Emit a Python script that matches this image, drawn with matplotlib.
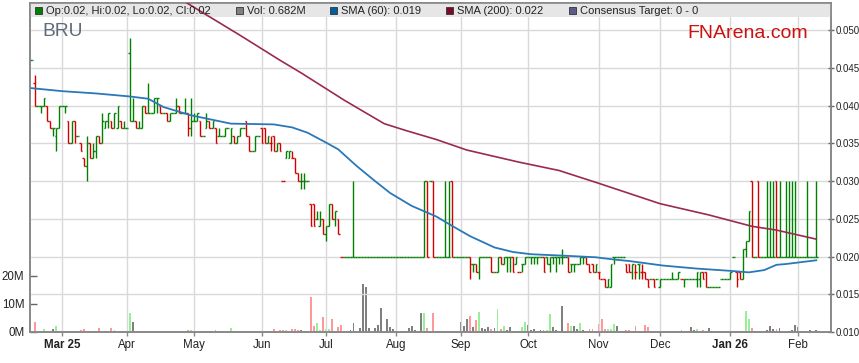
import numpy as np
import pandas as pd
import matplotlib
matplotlib.use('Agg')
import matplotlib.pyplot as plt
from matplotlib.patches import Rectangle

plt.rcParams['font.family'] = ['Liberation Sans', 'DejaVu Sans']

# BRU daily bars, prices in tenths of a cent (0.001), volume in millions
opens = [46, 43, 40, 40, 40, 40, 38, 37, 36, 37,
         40, 40, 38, 35, 38, 36, 35, 33, 32, 35,
         33, 34, 36, 35, 37, 38, 38, 37, 37, 38,
         37, 37, 47, 38, 38, 37, 37, 40, 39, 39,
         39, 41, 40, 39, 39, 38, 39, 39, 40, 39,
         39, 39, 37, 38, 38, 38, 36, 37, 38, 37,
         37, 36, 36, 36, 37, 35, 36, 35, 36, 37,
         38, 36, 34, 34, 36, 37, 37, 35, 35, 36,
         34, 35, 30, 33, 33, 33, 33, 31, 30, 30,
         30, 27, 27, 25, 24, 25, 23, 24, 27, 25,
         25, 20, 20, 20, 20, 20, 20, 20, 20, 20,
         20, 20, 20, 20, 20, 20, 20, 20, 20, 20,
         20, 20, 20, 20, 20, 20, 20, 20, 20, 30,
         30, 30, 20, 20, 20, 20, 20, 30, 20, 20,
         20, 20, 20, 20, 19, 19, 18, 20, 20, 20,
         20, 18, 18, 20, 19, 20, 20, 20, 19, 18,
         19, 19, 20, 20, 20, 20, 20, 20, 20, 19,
         20, 20, 20, 20, 20, 20, 19, 19, 19, 19,
         20, 20, 19, 19, 18, 18, 17, 17, 16, 16,
         20, 20, 20, 20, 19, 19, 18, 18, 19, 18,
         18, 17, 17, 17, 17, 16, 17, 17, 17, 17,
         17, 17, 17, 17, 17, 17, 17, 17, 17, 18,
         18, 16, 16, 16, 16, 17, 17, 17, 17, 20,
         18, 18, 17, 21, 22, 30, 20, 30, 20, 20,
         20, 20, 20, 30, 20, 20, 20, 20, 20, 20,
         20, 20, 20, 20, 20, 20, 20]
highs = [46, 44, 40, 40, 41, 40, 38, 37, 37, 40,
         40, 40, 38, 38, 38, 36, 35, 33, 36, 35,
         35, 36, 36, 39, 38, 39, 38, 39, 40, 38,
         38, 37, 49, 41, 38, 38, 40, 40, 43, 39,
         41, 41, 40, 39, 39, 39, 39, 41, 40, 39,
         41, 39, 41, 39, 39, 38, 36, 39, 38, 38,
         37, 37, 36, 37, 37, 37, 36, 36, 37, 37,
         38, 36, 34, 36, 36, 37, 37, 36, 36, 36,
         35, 35, 30, 34, 34, 34, 33, 31, 31, 31,
         30, 27, 27, 26, 26, 25, 24, 27, 27, 26,
         25, 20, 20, 20, 20, 30, 20, 20, 20, 20,
         20, 20, 20, 20, 20, 20, 20, 20, 20, 20,
         20, 20, 20, 20, 20, 20, 20, 20, 30, 30,
         30, 30, 20, 20, 20, 30, 30, 30, 20, 20,
         20, 20, 20, 20, 19, 19, 20, 20, 20, 20,
         20, 18, 20, 20, 20, 20, 20, 20, 20, 18,
         19, 20, 20, 20, 20, 20, 20, 20, 20, 20,
         20, 20, 20, 21, 20, 20, 19, 19, 19, 20,
         20, 20, 19, 19, 19, 18, 17, 17, 17, 19,
         20, 20, 20, 20, 19, 19, 19, 19, 19, 19,
         18, 17, 17, 17, 17, 17, 17, 17, 17, 18,
         17, 18, 17, 17, 17, 17, 17, 18, 18, 18,
         18, 16, 16, 16, 16, 17, 17, 17, 18, 20,
         18, 18, 21, 22, 26, 30, 20, 30, 20, 20,
         30, 30, 30, 30, 30, 20, 30, 30, 30, 30,
         20, 20, 20, 30, 20, 20, 30]
lows = [46, 40, 40, 39, 40, 38, 37, 36, 34, 37,
        40, 39, 35, 35, 35, 36, 34, 32, 30, 33,
        33, 33, 35, 35, 37, 37, 37, 37, 37, 37,
        37, 37, 38, 38, 37, 37, 37, 39, 39, 39,
        39, 39, 39, 39, 38, 38, 39, 39, 39, 39,
        39, 36, 36, 38, 38, 36, 36, 37, 37, 37,
        35, 36, 36, 36, 37, 35, 35, 35, 36, 37,
        36, 34, 34, 34, 36, 35, 35, 35, 34, 34,
        34, 34, 30, 33, 33, 33, 31, 30, 29, 29,
        30, 24, 24, 25, 24, 23, 22, 24, 25, 24,
        23, 20, 20, 20, 20, 20, 20, 20, 20, 20,
        20, 20, 20, 20, 20, 20, 20, 20, 20, 20,
        20, 20, 20, 20, 20, 20, 20, 20, 20, 20,
        30, 20, 20, 20, 20, 20, 20, 20, 20, 20,
        20, 20, 20, 17, 18, 18, 17, 20, 20, 20,
        18, 18, 18, 19, 19, 18, 18, 18, 19, 18,
        18, 19, 20, 19, 19, 19, 20, 18, 19, 18,
        19, 18, 19, 19, 20, 18, 18, 18, 19, 19,
        19, 19, 18, 18, 18, 17, 17, 16, 16, 16,
        19, 20, 20, 20, 18, 18, 17, 17, 17, 17,
        17, 16, 17, 16, 17, 16, 17, 17, 17, 17,
        17, 17, 17, 16, 17, 17, 17, 16, 16, 17,
        16, 16, 16, 16, 16, 17, 17, 17, 17, 20,
        16, 17, 17, 20, 22, 20, 20, 20, 20, 20,
        20, 20, 20, 20, 20, 20, 20, 20, 20, 20,
        20, 20, 20, 20, 20, 20, 20]
closes = [46, 40, 40, 40, 41, 38, 37, 37, 37, 40,
          40, 40, 35, 38, 36, 36, 34, 32, 35, 33,
          34, 36, 35, 38, 38, 39, 37, 39, 40, 37,
          37, 37, 38, 38, 37, 37, 40, 39, 39, 39,
          41, 41, 39, 39, 38, 39, 39, 40, 39, 39,
          39, 37, 38, 38, 39, 36, 36, 38, 37, 38,
          35, 36, 36, 37, 37, 37, 35, 36, 37, 37,
          36, 34, 34, 36, 36, 35, 35, 36, 35, 34,
          35, 34, 30, 34, 34, 33, 31, 30, 30, 30,
          30, 24, 24, 25, 25, 23, 24, 27, 25, 26,
          23, 20, 20, 20, 20, 20, 20, 20, 20, 20,
          20, 20, 20, 20, 20, 20, 20, 20, 20, 20,
          20, 20, 20, 20, 20, 20, 20, 20, 30, 20,
          30, 20, 20, 20, 20, 20, 20, 20, 20, 20,
          20, 20, 20, 19, 19, 18, 20, 20, 20, 20,
          18, 18, 20, 19, 20, 20, 20, 18, 20, 18,
          19, 20, 20, 20, 20, 20, 20, 18, 19, 20,
          20, 20, 20, 20, 20, 18, 19, 19, 19, 20,
          20, 19, 18, 18, 19, 18, 17, 16, 17, 19,
          20, 20, 20, 20, 18, 18, 19, 18, 19, 18,
          17, 16, 17, 16, 17, 17, 17, 17, 17, 17,
          17, 18, 17, 17, 17, 17, 17, 18, 18, 17,
          16, 16, 16, 16, 16, 17, 17, 17, 18, 20,
          17, 17, 21, 22, 26, 20, 20, 20, 20, 20,
          20, 20, 20, 20, 20, 20, 20, 20, 20, 20,
          20, 20, 20, 20, 20, 20, 20]
volumes = [0.2, 3.4, 0.5, 0.5, 1.1, 0.5, 0.3, 1.2, 2.0, 0.2,
           0.2, 0.3, 0.3, 0.3, 0.2, 0.2, 0.8, 1.2, 0.2, 0.2,
           0.5, 0.5, 1.5, 0.2, 0.2, 0.2, 1.5, 0.6, 0.5, 0.5,
           0.5, 0.2, 6.7, 3.7, 0.4, 0.1, 0.1, 0.4, 0.4, 0.3,
           0.1, 0.1, 0.3, 0.1, 0.1, 0.1, 0.1, 0.1, 0.1, 0.1,
           0.1, 0.8, 0.8, 0.1, 0.1, 0.1, 0.1, 0.4, 0.4, 0.1,
           0.8, 0.1, 0.1, 0.1, 0.4, 1.5, 0.4, 0.4, 0.5, 0.4,
           0.4, 0.4, 0.3, 0.1, 0.1, 0.4, 0.1, 0.4, 0.1, 1.2,
           0.3, 0.6, 0.6, 0.6, 0.4, 0.9, 0.9, 0.6, 0.6, 0.4,
           0.2, 12.4, 2.3, 3.1, 0.8, 5.5, 1.2, 1.2, 4.8, 0.2,
           1.9, 2.6, 0.1, 0.4, 0.8, 3.1, 0.1, 1.5, 17.0, 16.0,
           1.5, 0.1, 1.5, 2.6, 8.7, 0.1, 4.8, 1.9, 1.2, 0.1,
           0.1, 0.1, 0.3, 1.5, 2.3, 0.8, 0.5, 6.7, 6.7, 1.5,
           0.5, 6.8, 0.3, 0.4, 0.4, 0.3, 0.3, 0.3, 0.1, 0.1,
           3.5, 2.3, 4.8, 5.6, 1.7, 4.4, 7.0, 1.3, 1.2, 1.8,
           1.1, 1.4, 8.3, 1.1, 2.3, 0.6, 1.9, 0.2, 0.1, 0.1,
           1.9, 3.5, 2.6, 0.7, 1.2, 0.5, 0.7, 0.7, 0.8, 6.5,
           1.7, 0.7, 0.1, 9.4, 0.5, 3.3, 2.0, 2.3, 1.2, 3.3,
           0.6, 0.1, 1.2, 1.2, 0.1, 3.0, 4.6, 1.2, 1.2, 1.2,
           2.7, 2.0, 0.5, 0.4, 0.8, 0.8, 0.1, 2.3, 0.3, 0.1,
           2.6, 1.9, 0.1, 0.1, 0.1, 0.5, 0.5, 0.5, 0.4, 0.4,
           0.3, 0.1, 0.8, 0.1, 0.1, 1.8, 0.7, 1.2, 0.5, 0.8,
           0.5, 1.4, 0.1, 0.1, 0.3, 0.1, 0.1, 0.3, 0.3, 0.1,
           0.3, 0.3, 0.3, 7.4, 4.8, 1.4, 0.5, 0.2, 0.1, 0.1,
           0.6, 2.3, 1.2, 1.2, 1.4, 0.1, 0.1, 0.3, 0.8, 2.6,
           1.8, 0.3, 0.3, 0.1, 0.7, 0.5, 0.7]

# moving averages (bar index, price in 0.001)
sma60_idx = [0, 10, 21, 32, 38, 43, 52, 65, 79, 85, 90, 96, 100, 106, 112, 117,
             124, 128, 132, 137, 143, 151, 157, 163, 174, 184, 190, 195, 206,
             217, 228, 234, 239, 243, 246, 254, 256]
sma60_val = [42.3, 41.9, 41.6, 41.2, 40.9, 39.8, 38.7, 37.6, 37.5, 37.1, 36.4,
             35.1, 34.2, 32.0, 30.0, 28.4, 26.7, 26.0, 25.3, 24.1, 22.7, 21.2,
             20.6, 20.3, 20.1, 19.9, 19.6, 19.4, 18.8, 18.4, 18.1, 17.9, 18.2,
             18.9, 19.0, 19.4, 19.5]
sma200_idx = [49, 55, 68, 81, 88, 102, 115, 122, 132, 142, 159, 172, 185, 205,
              221, 235, 243, 256]
sma200_val = [54.0, 52.5, 49.3, 46.0, 44.3, 40.7, 37.6, 36.7, 35.5, 34.1, 32.5,
              31.4, 29.7, 27.0, 25.5, 24.0, 23.5, 22.3]

o = np.array(opens) / 1000
h = np.array(highs) / 1000
lo = np.array(lows) / 1000
c = np.array(closes) / 1000
vol = np.array(volumes)
n = len(c)
xs = np.arange(n)
dates = pd.bdate_range('2025-02-17', periods=n)

# direction: vs previous close, ties decided by open/close
prev = np.r_[c[0], c[:-1]]
d = np.sign(np.round((c - prev) * 1000))
d = np.where(d == 0, np.sign(np.round((c - o) * 1000)), d)
bar_col = np.where(d < 0, '#d40000', '#008000')
vol_col = np.where(d > 0, '#99ee99', np.where(d < 0, '#ff9999', '#808080'))

W, H = 859, 363
fig = plt.figure(figsize=(W / 100, H / 100), dpi=100)
L, R, B, T = 30 / W, 831 / W, 31 / H, 360 / H
ax = fig.add_axes([L, B, R - L, T - B])
ax2 = ax.twinx()

# volume on the left scale
ax.bar(xs, vol, width=0.6, color=vol_col, linewidth=0)
ax.set_ylim(0, 117.5)
ax.set_yticks([0, 10, 20])
ax.set_yticklabels(['0M', '10M', '20M'])

# price bars on the right scale
ax2.vlines(xs, lo, h, colors=bar_col, linewidth=1.0, capstyle='butt', zorder=2)
ax2.hlines(o, xs - 0.5, xs, colors=bar_col, linewidth=1.0, capstyle='butt', zorder=2)
ax2.hlines(c, xs, xs + 0.5, colors=bar_col, linewidth=1.0, capstyle='butt', zorder=2)
ax2.plot(sma60_idx, np.array(sma60_val) / 1000, color='#2a78b8', lw=1.3, zorder=3)
ax2.plot(sma200_idx, np.array(sma200_val) / 1000, color='#9a2a52', lw=1.2, zorder=3)
ax2.set_ylim(0.010, 0.05358)
ax2.set_yticks(np.arange(0.010, 0.0501, 0.005))
ax2.yaxis.set_major_formatter(plt.FormatStrFormatter('%.3f'))
ax.set_xlim(-0.55, 260.8)

# month ticks
first = [i for i in range(1, n) if dates[i].month != dates[i - 1].month]
labels = []
for i in first:
    dt = dates[i]
    if dt.month == 1 or i == first[0]:
        labels.append(dt.strftime('%b %y'))
    else:
        labels.append(dt.strftime('%b'))
ax.set_xticks(first)
ax.set_xticklabels(labels)
for t, i in zip(ax.get_xticklabels(), first):
    if dates[i].month == 1 or i == first[0]:
        t.set_fontweight('bold')

grid_c = '#d9d9d9'
ax.grid(axis='x', color=grid_c, lw=1)
ax.grid(axis='y', visible=False)
ax2.grid(axis='y', color=grid_c, lw=1)
ax2.set_axisbelow(True)

# legend band
ax2.add_patch(Rectangle((0, 1 - 14 / 329), 1, 14 / 329, transform=ax2.transAxes,
                        facecolor='#e6e6e6', edgecolor='none', zorder=1))

for a in (ax, ax2):
    for s in a.spines.values():
        s.set_color('#888888')
        s.set_linewidth(1.2)
ax.tick_params(axis='x', direction='out', length=3, width=1, color='#888888',
               labelsize=8.3, labelcolor='#222222', pad=2)
ax.tick_params(axis='y', direction='in', length=5, width=1, color='#666666',
               labelsize=8.3, labelcolor='#222222', pad=4)
ax2.tick_params(axis='y', direction='inout', length=5, width=1, color='#666666',
                labelsize=7.0, labelcolor='#222222', pad=0.8)

legend_items = [
    (35, '#007f00', 'Op:0.02, Hi:0.02, Lo:0.02, Cl:0.02'),
    (236, '#808080', 'Vol: 0.682M'),
    (330, '#005f9f', 'SMA (60): 0.019'),
    (446, '#7a0a28', 'SMA (200): 0.022'),
    (569, '#5c5c8a', 'Consensus Target: 0 - 0'),
]
for px, col, txt in legend_items:
    fig.add_artist(Rectangle((px / W, 1 - 14 / H), 7 / W, 7 / H, transform=fig.transFigure,
                             facecolor=col, edgecolor='#333333', lw=0.6, zorder=5))
    fig.text((px + 11) / W, 1 - 10.5 / H, txt, fontsize=8.0, color='#222222',
             va='center', ha='left', zorder=5)

fig.text(42 / W, 1 - 32 / H, 'BRU', fontsize=13.8, color='#5f6b78', va='center', ha='left')
fig.text(687 / W, 1 - 33 / H, 'FNArena.com', fontsize=14, color='#cc1111', va='center', ha='left')

fig.savefig('out.png', dpi=100)
